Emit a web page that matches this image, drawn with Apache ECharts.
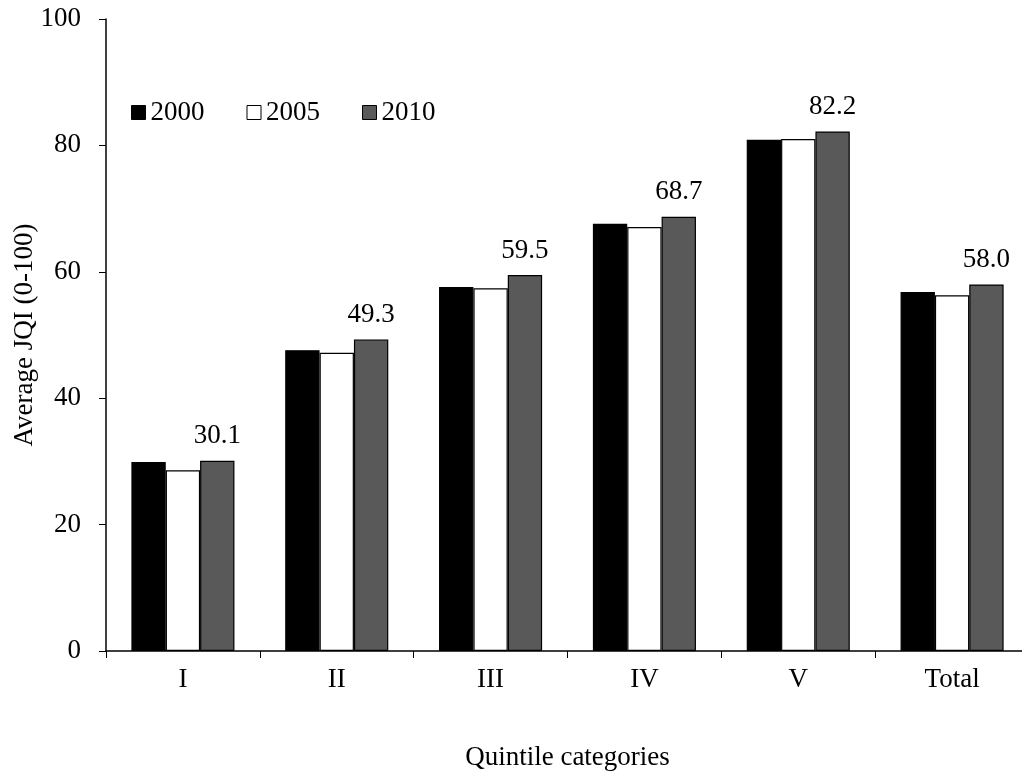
<!DOCTYPE html>
<html><head><meta charset="utf-8">
<script src="https://cdn.jsdelivr.net/npm/echarts@6/dist/echarts.min.js"></script>
<style>html,body{margin:0;padding:0;background:#fff}#c{width:1022px;height:773px}</style>
</head><body><div id="c"></div>
<script>
const categories = ['I', 'II', 'III', 'IV', 'V', 'Total'];
const years = ['2000', '2005', '2010'];
const s2000 = [29.9, 47.6, 57.6, 67.6, 80.9, 56.8];
const s2005 = [28.6, 47.2, 57.4, 67.1, 81.0, 56.3];
const s2010 = [30.1, 49.3, 59.5, 68.7, 82.2, 58.0];
const yTicks = [0, 20, 40, 60, 80, 100];

const font = 'Liberation Serif';
const fs = 27;
const colors = ['#000000', '#ffffff', '#595959'];
const data = [s2000, s2005, s2010];
const chart = echarts.init(document.getElementById('c'));
chart.setOption({
  animation: false,
  textStyle: {fontFamily: font},
  grid: {left: 106, top: 19, width: 923, bottom: 122, containLabel: false, outerBoundsMode: 'none'},
  legend: {
    left: 126, top: 94, itemWidth: 14, itemHeight: 14, itemGap: 42,
    icon: 'rect',
    textStyle: {fontFamily: font, fontSize: fs, color: '#000'},
    data: years.map((y, i) => ({name: y, itemStyle: {color: colors[i], borderColor: '#000', borderWidth: 1}}))
  },
  xAxis: {
    type: 'category', data: categories,
    name: 'Quintile categories', nameLocation: 'middle', nameGap: 93,
    nameTextStyle: {fontFamily: font, fontSize: fs, color: '#000'},
    axisLine: {lineStyle: {color: '#000', width: 1.5}},
    axisTick: {show: true, length: 7, lineStyle: {color: '#000'}},
    axisLabel: {fontFamily: font, fontSize: fs, color: '#000', margin: 15}
  },
  yAxis: {
    type: 'value', min: yTicks[0], max: yTicks[yTicks.length - 1], interval: 20,
    name: 'Average JQI (0-100)', nameLocation: 'middle', nameGap: 68, nameMoveOverlap: false,
    nameTextStyle: {fontFamily: font, fontSize: fs, color: '#000'},
    axisLine: {show: true, lineStyle: {color: '#000', width: 1.5}},
    axisTick: {show: true, length: 7, lineStyle: {color: '#000'}},
    splitLine: {show: false},
    axisLabel: {fontFamily: font, fontSize: fs, color: '#000', margin: 25}
  },
  series: years.map((y, i) => ({
    name: y, type: 'bar', data: data[i],
    barGap: '0%', barCategoryGap: '33%',
    itemStyle: {color: colors[i], borderColor: '#000', borderWidth: 1.2},
    label: i === 2 ? {show: true, position: 'top', distance: 11, fontFamily: font, fontSize: fs, color: '#000',
      formatter: p => p.value.toFixed(1)} : {show: false}
  }))
});
</script></body></html>
